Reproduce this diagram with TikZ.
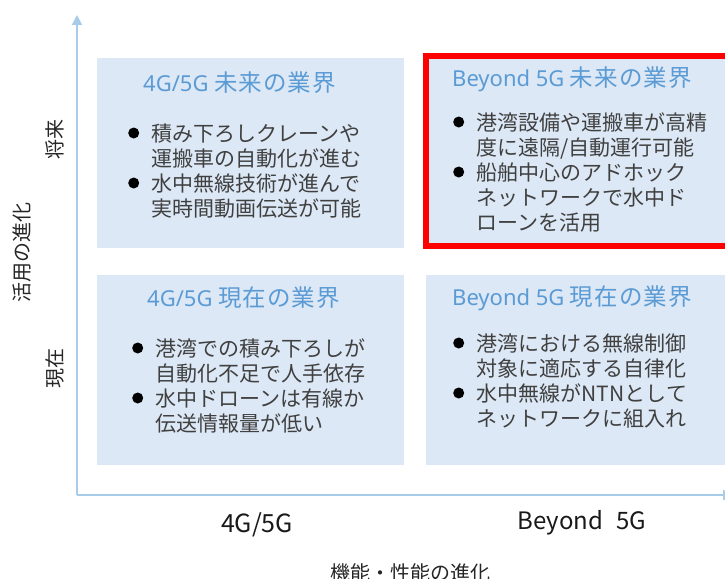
\documentclass[tikz,border=0pt]{standalone}
\usepackage{fontspec}
\setmainfont{Noto Sans CJK JP}
\newfontfamily\latf{Noto Sans}
\usetikzlibrary{arrows.meta}
\definecolor{boxfill}{HTML}{DCE8F5}
\definecolor{titleblue}{HTML}{5B9BD5}
\definecolor{axisblue}{HTML}{A9CBEA}
\definecolor{bodygrey}{HTML}{404040}
\definecolor{redframe}{HTML}{FF0000}
\newcommand\tc[1]{\makebox[24.6pt]{\fontsize{23.5}{26}\selectfont #1}}
\newcommand\bul{\makebox[23.5pt][l]{\tikz[baseline=-8pt]\fill[black] (5.5pt,0) circle (5.5pt);}}
\newcommand\ind{\hspace*{23.5pt}}
\tikzset{
  panel/.style={fill=boxfill, draw=none, anchor=north west, inner sep=0pt},
  paneltitle/.style={anchor=base west, inner sep=0pt, text=titleblue, font=\fontsize{22}{26}\selectfont},
  panelbody/.style={anchor=base west, inner sep=0pt, align=left, text=bodygrey, font=\fontsize{21}{25}\selectfont},
  axislabel/.style={inner sep=0pt, text=black!85, font=\fontsize{20}{24}\selectfont},
  ticklabel/.style={inner sep=0pt, text=black!90, font=\fontsize{25}{30}\selectfont},
  axisline/.style={draw=axisblue, line width=2pt, -{Triangle[length=10pt,width=10pt]}}
}
\begin{document}
\begin{tikzpicture}[x=1pt,y=-1pt]
\useasboundingbox (0,0) rectangle (725,578);
\clip (0,0) rectangle (725,578);
% axes
\coordinate (origin) at (77,495);
\coordinate (ytip) at (77,15);
\coordinate (xtip) at (733,495);
\draw[axisline] (origin) -- (ytip);
\draw[axisline] (origin) -- (xtip);
% panels
\node[panel, minimum width=307pt, minimum height=190pt] (tl) at (97,58) {};
\node[panel, minimum width=310pt, minimum height=190pt] (tr) at (426,58) {};
\node[panel, minimum width=307pt, minimum height=190pt] (bl) at (97,275) {};
\node[panel, minimum width=310pt, minimum height=190pt] (br) at (426,275) {};
\draw[redframe, line width=6pt] (426,56) rectangle (731,246);
% titles
\node[paneltitle] (tlt) at (143,91) {{\latf 4G/5G} \tc{未}\tc{来}\tc{の}\tc{業}\tc{界}};
\node[paneltitle] (trt) at (452,86) {{\latf Beyond 5G} \tc{未}\tc{来}\tc{の}\tc{業}\tc{界}};
\node[paneltitle] (blt) at (147,306) {{\latf 4G/5G} \tc{現}\tc{在}\tc{の}\tc{業}\tc{界}};
\node[paneltitle] (brt) at (452,305) {{\latf Beyond 5G} \tc{現}\tc{在}\tc{の}\tc{業}\tc{界}};
% bodies (anchor is the baseline of the last line)
\node[panelbody] (tlb) at (128,216) {\bul 積み下ろしクレーンや\\\ind 運搬車の自動化が進む\\\bul 水中無線技術が進んで\\\ind 実時間動画伝送が可能};
\node[panelbody] (trb) at (453,230) {\bul 港湾設備や運搬車が高精\\\ind 度に遠隔/自動運行可能\\\bul 船舶中心のアドホック\\\ind ネットワークで水中ド\\\ind ローンを活用};
\node[panelbody] (blb) at (132,431) {\bul 港湾での積み下ろしが\\\ind 自動化不足で人手依存\\\bul 水中ドローンは有線か\\\ind 伝送情報量が低い};
\node[panelbody] (brb) at (453,426) {\bul 港湾における無線制御\\\ind 対象に適応する自律化\\\bul 水中無線がNTNとして\\\ind ネットワークに組入れ};
% axis labels
\node[axislabel, rotate=90] (future) at (55,139) {将来};
\node[axislabel, rotate=90] (present) at (55,368) {現在};
\node[axislabel, rotate=90] (yname) at (22,252) {活用の進化};
\node[ticklabel] (x1) at (257,525) {4G/5G};
\node[ticklabel, font=\fontsize{24}{29}\selectfont] (x2) at (582,523) {Beyond\hspace{13pt}5G};
\node[axislabel] (xname) at (410,573) {機能・性能の進化};
\end{tikzpicture}
\end{document}
